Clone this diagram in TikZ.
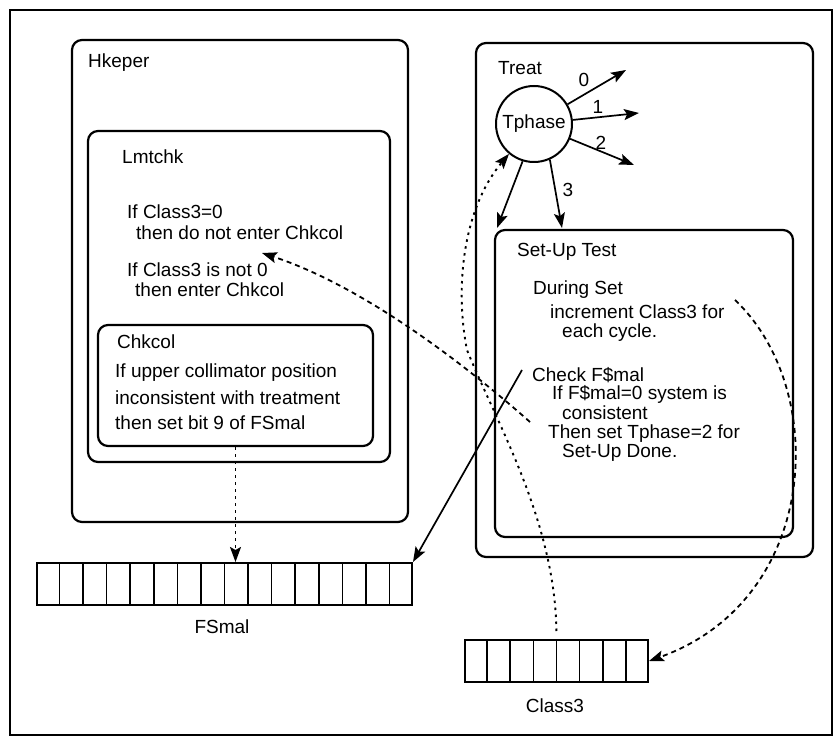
\documentclass[tikz,border=0pt]{standalone}
\usepackage{fontspec}
\setmainfont{Liberation Sans}
\usetikzlibrary{arrows.meta,calc}
\begin{document}
\begin{tikzpicture}[x=1pt,y=-1pt,
  every node/.style={font=\fontsize{19}{21}\selectfont},
  outerframe/.style={draw, line width=2.2pt},
  roundbox/.style={draw, line width=2.2pt, rounded corners=10pt, inner sep=0pt},
  regbox/.style={draw, line width=2pt, inner sep=0pt, minimum height=42pt},
  txtline/.style={anchor=west, inner sep=0pt},
  myhead/.style={-{Stealth[length=15pt,width=11pt,inset=3pt]}},
  arr/.style={myhead, line width=1.7pt},
  dotarr/.style={myhead, line width=1.9pt, dash pattern=on 2.5pt off 4.5pt},
  dasharr/.style={myhead, line width=1.8pt, dash pattern=on 5pt off 4pt}]
\useasboundingbox (0,0) rectangle (836,738);
\draw[outerframe] (10,10) rectangle (832,735);

% Hkeper side
\node[roundbox, minimum width=336pt, minimum height=482pt] (hk) at (240,281) {};
\node[roundbox, minimum width=302pt, minimum height=331pt] (lm) at (239,296.5) {};
\node[roundbox, minimum width=275pt, minimum height=121pt] (ck) at (235.5,385.5) {};
\node[txtline] (hkt) at (88,63) {Hkeper};
\node[txtline] (lmt) at (122,157) {Lmtchk};
\node[txtline] (l1) at (127,212) {If Class3=0};
\node[txtline] (l2) at (136,233) {then do not enter Chkcol};
\node[txtline] (l3) at (127,270) {If Class3 is not 0};
\node[txtline] (l4) at (135,290) {then enter Chkcol};
\node[txtline] (ckt) at (117,342) {Chkcol};
\node[txtline] (c1) at (115,373) {If upper collimator position};
\node[txtline] (c2) at (115,398) {inconsistent with treatment};
\node[txtline] (c3t) at (115,423) {then set bit 9 of FSmal};

% Treat side
\node[roundbox, minimum width=337pt, minimum height=514pt] (tr) at (644.5,300) {};
\node[roundbox, minimum width=298pt, minimum height=307pt] (su) at (644,383.5) {};
\node[txtline] (trt) at (498,68) {Treat};
\node[draw, circle, line width=2pt, minimum size=76pt, inner sep=0pt] (tp) at (534,124) {Tphase};
\node[txtline] (s0) at (517,252) {Set-Up Test};
\node[txtline] (s1) at (533,290) {During Set};
\node[txtline] (s2) at (550,312) {increment Class3 for};
\node[txtline] (s3) at (562,333) {each cycle.};
\node[txtline] (s4) at (532,375) {Check F\$mal};
\node[txtline] (s5) at (552,394) {If F\$mal=0 system is};
\node[txtline] (s6) at (562,413) {consistent};
\node[txtline] (s7) at (548,434) {Then set Tphase=2 for};
\node[txtline] (s8) at (562,453) {Set-Up Done.};

% arrays
\node[regbox, minimum width=375pt] (fs) at (224.5,584) {};
\foreach \i in {1,...,15}
  \draw[line width=1.6pt] ($(fs.north west)!\i/16!(fs.north east)$) -- ($(fs.south west)!\i/16!(fs.south east)$);
\node (fsl) at (222,627) {FSmal};
\node[regbox, minimum width=183pt] (cl) at (556.5,661) {};
\foreach \i in {1,...,7}
  \draw[line width=1.6pt] ($(cl.north west)!\i/8!(cl.north east)$) -- ($(cl.south west)!\i/8!(cl.south east)$);
\node (cll) at (555,706) {Class3};

% Tphase branches
\coordinate (a0) at (626,70);
\coordinate (a1) at (639,113);
\coordinate (a2) at (634,165);
\coordinate (a3) at (562,228);
\coordinate (a4) at (497,228);
\draw[arr] (tp) -- (a0);
\draw[arr] (tp) -- (a1);
\draw[arr] (tp) -- (a2);
\draw[arr] (tp.-66) -- (a3);
\draw[arr] (tp.-107) -- (a4);
\node (n0) at (584,80) {0};
\node (n1) at (598,107) {1};
\node (n2) at (601,143) {2};
\node (n3) at (568,190) {3};

% Chkcol -> FSmal
\draw[dotarr] (ck.south) -- (ck.south |- fs.north);

% Check F$mal -> FSmal
\coordinate (chk0) at (522,370);
\draw[arr] (chk0) -- (fs.north east);

% Set-Up Done -> Lmtchk
\coordinate (bS) at (530,422);
\coordinate (bE) at (262,253);
\draw[dasharr] (bS) .. controls (460,360) and (360,285) .. (bE);

% Class3 -> Tphase
\coordinate (cm) at (467,350);
\draw[dotarr, shorten <=8pt] (cl.north) .. controls (555,520) and (495,420) .. (cm) .. controls (455,290) and (462,210) .. (tp);

% increment -> Class3
\coordinate (dS) at (735,300);
\draw[dasharr] (dS) .. controls (830,390) and (820,600) .. (cl.east);
\end{tikzpicture}
\end{document}
